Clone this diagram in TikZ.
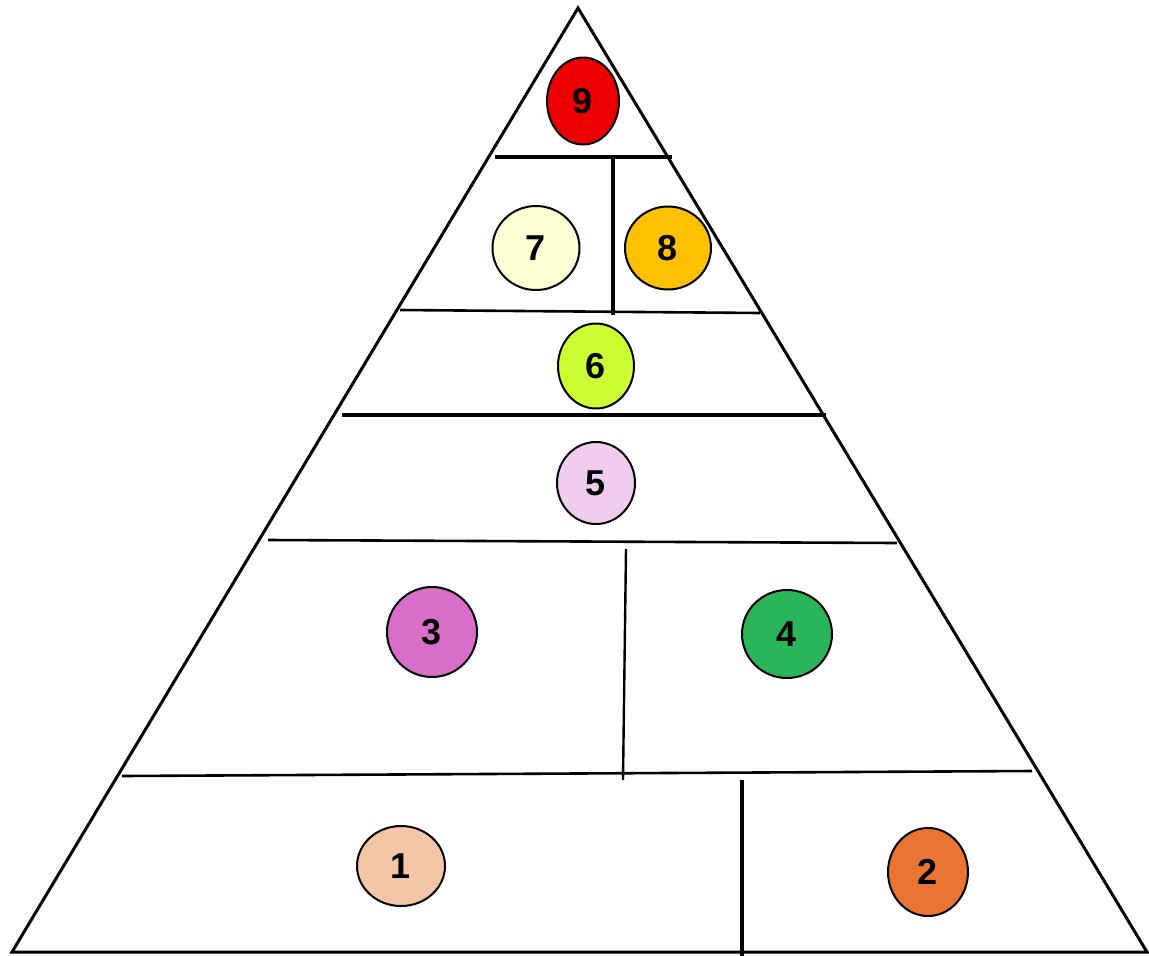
\documentclass[tikz,border=0pt]{standalone}
\usepackage{fontspec}
\setmainfont{Liberation Sans}
\usetikzlibrary{shapes.geometric}
\definecolor{c9}{HTML}{EE0000}
\definecolor{c7}{HTML}{FFFFD5}
\definecolor{c8}{HTML}{FFC000}
\definecolor{c6}{HTML}{CCFF33}
\definecolor{c5}{HTML}{F0CCEE}
\definecolor{c3}{HTML}{D76EC8}
\definecolor{c4}{HTML}{2BB55A}
\definecolor{c1}{HTML}{F5C5A8}
\definecolor{c2}{HTML}{E97434}
\tikzset{
  blob/.style={ellipse, draw=black, line width=2pt, inner sep=0pt,
    font=\fontsize{36}{36}\selectfont\bfseries},
  edge/.style={line width=3pt, line join=miter, line cap=butt},
  thin sep/.style={line width=2.6pt},
  thick sep/.style={line width=4.5pt}
}
\begin{document}
\begin{tikzpicture}[x=1pt,y=-1pt]
\useasboundingbox (0,0) rectangle (1149,956);
\fill[white] (0,0) rectangle (1149,956);
% outline
\coordinate (apex) at (578,8);
\coordinate (bl) at (12,952);
\coordinate (br) at (1147,952);
\draw[edge] (bl) -- (apex) -- (br) -- cycle;
% separators
\coordinate (a1) at (495,157); \coordinate (a2) at (672,157);
\draw[thick sep] (a1) -- (a2);
\coordinate (v1t) at (613,157); \coordinate (v1b) at (613,315);
\draw[thick sep] (v1t) -- (v1b);
\coordinate (b1) at (400,310); \coordinate (b2) at (760,313);
\draw[thin sep] (b1) -- (b2);
\coordinate (c1) at (342,415); \coordinate (c2) at (826,415);
\draw[thick sep] (c1) -- (c2);
\coordinate (d1) at (268,540); \coordinate (d2) at (897,543);
\draw[thin sep] (d1) -- (d2);
\coordinate (v2t) at (626,549); \coordinate (v2b) at (623,780);
\draw[line width=2.4pt] (v2t) -- (v2b);
\coordinate (e1) at (122,776); \coordinate (e2) at (1032,771);
\draw[thin sep] (e1) -- (e2);
\coordinate (v3t) at (742,780); \coordinate (v3b) at (742,956);
\draw[line width=3.5pt] (v3t) -- (v3b);
% circles
\node[blob, fill=c9, minimum width=72pt, minimum height=87pt] (n9) at (583,101) {9};
\node[blob, fill=c7, minimum width=87pt, minimum height=84pt] (n7) at (536,248) {7};
\node[blob, fill=c8, minimum width=86pt, minimum height=83pt] (n8) at (668,248) {8};
\node[blob, fill=c6, minimum width=76pt, minimum height=85pt] (n6) at (596,366) {6};
\node[blob, fill=c5, minimum width=78pt, minimum height=82pt] (n5) at (596,483) {5};
\node[blob, fill=c3, minimum width=90pt, minimum height=90pt] (n3) at (432,632) {3};
\node[blob, fill=c4, minimum width=90pt, minimum height=88pt] (n4) at (787,634) {4};
\node[blob, fill=c1, minimum width=88pt, minimum height=80pt] (n1) at (401,866) {1};
\node[blob, fill=c2, minimum width=80pt, minimum height=88pt] (n2) at (928,872) {2};
\end{tikzpicture}
\end{document}
